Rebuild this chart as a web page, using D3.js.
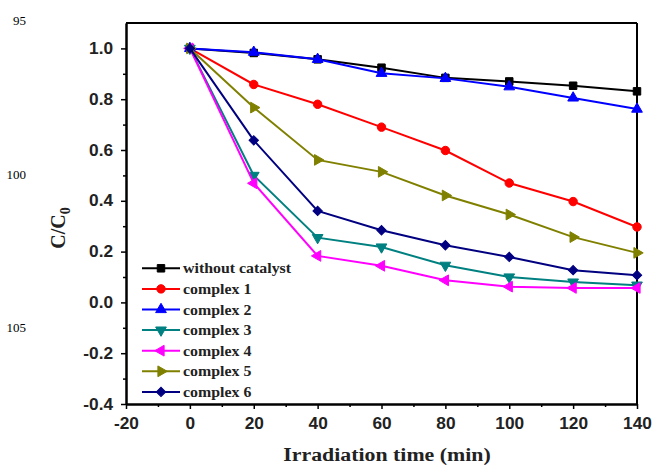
<!DOCTYPE html>
<html><head><meta charset="utf-8">
<script src="https://cdn.jsdelivr.net/npm/d3@7"></script>
<style>body{margin:0;background:#fff}</style>
</head><body>
<svg id="c" width="657" height="469"></svg>
<script>
const times = [0, 20, 40, 60, 80, 100, 120, 140];
const withoutCatalyst = [1.0, 0.982, 0.957, 0.924, 0.884, 0.870, 0.853, 0.831];
const complex1 = [1.0, 0.858, 0.780, 0.690, 0.598, 0.470, 0.397, 0.297];
const complex2 = [1.0, 0.985, 0.957, 0.902, 0.882, 0.849, 0.805, 0.761];
const complex3 = [1.0, 0.500, 0.255, 0.218, 0.146, 0.100, 0.080, 0.068];
const complex4 = [1.0, 0.469, 0.183, 0.144, 0.087, 0.062, 0.057, 0.057];
const complex5 = [1.0, 0.767, 0.561, 0.514, 0.421, 0.346, 0.257, 0.195];
const complex6 = [1.0, 0.638, 0.360, 0.284, 0.225, 0.179, 0.127, 0.107];
const seriesNames = ["without catalyst", "complex 1", "complex 2", "complex 3", "complex 4", "complex 5", "complex 6"];
const xTicks = [-20, 0, 20, 40, 60, 80, 100, 120, 140];
const yTicks = [-0.4, -0.2, 0.0, 0.2, 0.4, 0.6, 0.8, 1.0];
const xMinor = [-10, 10, 30, 50, 70, 90, 110, 130];
const yMinor = [-0.3, -0.1, 0.1, 0.3, 0.5, 0.7, 0.9];
const lineNumbers = ["95", "100", "105"];

const seriesValues = [withoutCatalyst, complex1, complex2, complex3, complex4, complex5, complex6];
const colors = ["#000000", "#ff0000", "#0000ff", "#008080", "#ff00ff", "#808000", "#000080"];
const shapes = [
  {t: d3.symbolSquare, s: 56, r: 0},
  {t: d3.symbolCircle, s: 56, r: 0},
  {t: d3.symbolTriangle, s: 50, r: 0},
  {t: d3.symbolTriangle, s: 50, r: 180},
  {t: d3.symbolTriangle, s: 50, r: -90},
  {t: d3.symbolTriangle, s: 50, r: 90},
  {t: d3.symbolSquare, s: 44, r: 45}
];

const svg = d3.select("#c");
const L = 126, R = 637, T = 23, B = 404;
const x = d3.scaleLinear().domain([-20, 140]).range([L, R]);
const y = d3.scaleLinear().domain([-0.4, 1.1]).range([B, T]);

// line numbers at left margin
const lnY = [25, 179, 332];
svg.selectAll("text.ln").data(lineNumbers).join("text")
  .attr("x", 26).attr("y", (d, i) => lnY[i])
  .attr("text-anchor", "end")
  .style("font-family", "'Liberation Serif', serif").style("font-size", "13px")
  .text(d => d);

// frame top/right
svg.append("line").attr("x1", x(-20)).attr("x2", x(140)).attr("y1", y(1.1)).attr("y2", y(1.1))
  .attr("stroke", "#000").attr("stroke-width", 2);
svg.append("line").attr("x1", x(140)).attr("x2", x(140)).attr("y1", y(1.1)).attr("y2", y(-0.4))
  .attr("stroke", "#000").attr("stroke-width", 2);

// axes
const ax = svg.append("g").attr("transform", `translate(0,${B})`)
  .call(d3.axisBottom(x).tickValues(xTicks).tickSize(5).tickSizeOuter(0).tickFormat(d3.format("d")));
const axm = svg.append("g").attr("transform", `translate(0,${B})`)
  .call(d3.axisBottom(x).tickValues(xMinor).tickSize(3).tickSizeOuter(0).tickFormat(""));
const ay = svg.append("g").attr("transform", `translate(${L},0)`)
  .call(d3.axisLeft(y).tickValues(yTicks).tickSize(5).tickSizeOuter(0).tickFormat(d3.format(".1f")));
const aym = svg.append("g").attr("transform", `translate(${L},0)`)
  .call(d3.axisLeft(y).tickValues(yMinor).tickSize(3).tickSizeOuter(0).tickFormat(""));
[ax, axm, ay, aym].forEach(g => {
  g.select(".domain").attr("stroke", "#000").attr("stroke-width", 2);
  g.selectAll(".tick line").attr("stroke", "#000").attr("stroke-width", 1.5);
});
[ax, ay].forEach(g => g.selectAll(".tick text")
  .style("font-family", "'Liberation Sans', Arial, sans-serif")
  .style("font-weight", "bold").style("font-size", "16px").attr("fill", "#222"));
ax.selectAll(".tick text").attr("y", 13.5).attr("transform", "scale(1.08,1)");
ay.selectAll(".tick text").attr("x", -12).attr("transform", "scale(1.08,1)");
ay.selectAll(".tick text").text(d => d3.format(".1f")(d).replace("−", "-"));
ax.selectAll(".tick text").text(d => String(d));

// series
const line = d3.line().x((d, i) => x(times[i])).y(d => y(d));
seriesValues.forEach((vals, k) => {
  const g = svg.append("g");
  g.append("path").datum(vals).attr("d", line)
    .attr("fill", "none").attr("stroke", colors[k]).attr("stroke-width", 2);
  const sym = d3.symbol().type(shapes[k].t).size(shapes[k].s);
  g.selectAll("path.m").data(vals).join("path").attr("class", "m")
    .attr("d", sym)
    .attr("transform", (d, i) => `translate(${x(times[i])},${y(d)}) rotate(${shapes[k].r})`)
    .attr("fill", colors[k]).attr("stroke", colors[k]).attr("stroke-width", 1);
});

// legend
const lg = svg.append("g");
seriesNames.forEach((name, k) => {
  const ry = 268.3 + k * 20.6;
  lg.append("line").attr("x1", 142).attr("x2", 180).attr("y1", ry).attr("y2", ry)
    .attr("stroke", colors[k]).attr("stroke-width", 2);
  lg.append("path").attr("d", d3.symbol().type(shapes[k].t).size(shapes[k].s)())
    .attr("transform", `translate(161,${ry}) rotate(${shapes[k].r})`)
    .attr("fill", colors[k]).attr("stroke", colors[k]).attr("stroke-width", 1);
  lg.append("text").attr("transform", `translate(183,${ry + 5}) scale(1.06,1)`)
    .style("font-family", "'Liberation Serif', 'Times New Roman', serif")
    .style("font-weight", "bold").style("font-size", "15px").attr("fill", "#222")
    .text(name);
});

// axis titles
svg.append("text").attr("transform", "translate(387,460.5) scale(1.15,1)")
  .attr("text-anchor", "middle")
  .style("font-family", "'Liberation Serif', 'Times New Roman', serif")
  .style("font-weight", "bold").style("font-size", "19px").attr("fill", "#222")
  .text("Irradiation time (min)");
const yt = svg.append("text").attr("transform", "translate(65,228) rotate(-90)")
  .attr("text-anchor", "middle")
  .style("font-family", "'Liberation Serif', 'Times New Roman', serif")
  .style("font-weight", "bold").style("font-size", "20px").attr("fill", "#222");
yt.append("tspan").text("C/C");
yt.append("tspan").attr("dy", 5).style("font-size", "14px").text("0");
</script>
</body></html>
